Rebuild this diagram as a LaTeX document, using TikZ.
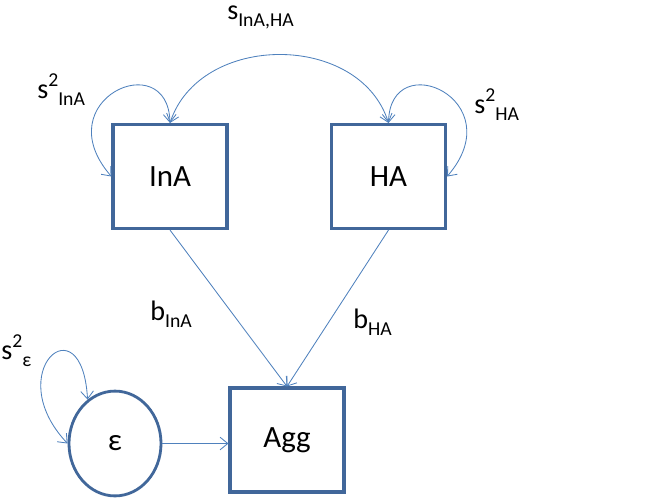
\documentclass[tikz,border=0pt]{standalone}
\usepackage{fontspec}
\setmainfont{Carlito}
\usetikzlibrary{arrows.meta, shapes.geometric}
\definecolor{boxblue}{HTML}{41679A}
\definecolor{lineblue}{HTML}{4F81BD}
\tikzset{>={Straight Barb[length=5.5pt,width=9pt]}}
\newcommand{\lsub}[1]{\raisebox{-0.28em}{\fontsize{14}{14}\selectfont #1}}
\newcommand{\lsup}[1]{\raisebox{0.42em}{\fontsize{14}{14}\selectfont #1}}

\begin{document}
\begin{tikzpicture}[x=0.025cm, y=-0.025cm,
  var/.style={draw=boxblue, line width=2.2pt, fill=white, minimum width=2.85cm,
    minimum height=2.6cm, inner sep=0pt, font=\fontsize{22}{26}\selectfont},
  err/.style={ellipse, draw=boxblue, line width=2pt, minimum width=2.3cm,
    minimum height=2.62cm, inner sep=0pt, font=\fontsize{22}{26}\selectfont},
  path/.style={->, lineblue, line width=0.6pt},
  cov/.style={<->, lineblue, line width=0.6pt},
  lab/.style={anchor=base west, inner sep=0pt, font=\fontsize{20}{24}\selectfont}]
\useasboundingbox (0,0) rectangle (645,501);
\node[var] (inA) at (170,176.5) {InA};
\node[var] (hA) at (388.5,176.5) {HA};
\node[var] (agg) at (287,440) {Agg};
\node[err] (eps) at (115,443.5) {ε};
% variances and covariance
\draw[cov] (inA.north) .. controls (200,32) and (360,32) .. (hA.north);
\draw[cov] (inA.north) .. controls (168,45) and (45,100) .. (inA.west);
\draw[cov] (hA.north) .. controls (390,45) and (513,100) .. (hA.east);
\draw[cov] (eps.122) .. controls (82,300) and (0,372) .. (eps.west);
% regressions
\draw[path] (inA.south) -- (agg.north);
\draw[path] (hA.south) -- (agg.north);
\draw[path] (eps.east) -- (eps.east -| agg.west);
% labels
\node[lab] (lcov) at (227,19) {s\lsub{InA,HA}};
\node[lab] (lvinA) at (37,98) {s\lsup{2}\lsub{InA}};
\node[lab] (lvhA) at (474,113) {s\lsup{2}\lsub{HA}};
\node[lab] (lbinA) at (150,320) {b\lsub{InA}};
\node[lab] (lbhA) at (353,328) {b\lsub{HA}};
\node[lab] (lveps) at (1,359) {s\lsup{2}\lsub{ε}};
\end{tikzpicture}
\end{document}
